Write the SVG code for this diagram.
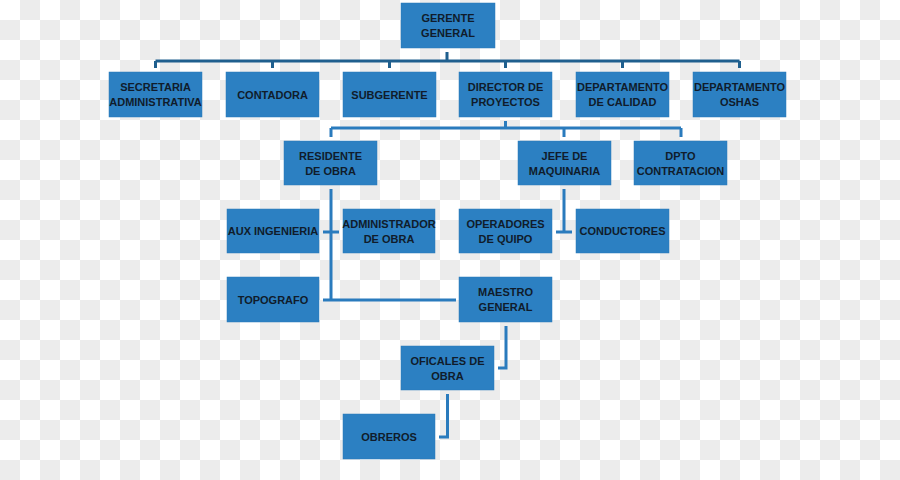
<svg xmlns="http://www.w3.org/2000/svg" width="900" height="480" viewBox="0 0 900 480">
<style>
.box{fill:#2c80c2;stroke:#2a79b8;stroke-width:0.5}
.t{font-family:"Liberation Sans",Arial,sans-serif;font-weight:bold;font-size:11px;fill:#101c2b;text-anchor:middle}
.top{fill:none;stroke:#1f5f8e;stroke-width:3}
.low{fill:none;stroke:#2a7bbd;stroke-width:3}
</style>
<defs>
<pattern id="chk" width="40" height="40" patternUnits="userSpaceOnUse">
<rect width="40" height="40" fill="#ffffff"/>
<rect x="20" y="0" width="20" height="20" fill="#ececec"/>
<rect x="0" y="20" width="20" height="20" fill="#ececec"/>
</pattern>
</defs>
<rect width="900" height="480" fill="url(#chk)"/>
<g id="connectors">
<path class="top" d="M447 52V61M155.5 61H739.5M155.5 61V68M272.5 61V68M389.5 61V68M505.5 61V68M622.5 61V68M739.5 61V68"/>
<path class="low" d="M505.5 121V128M331 128H681M331 128V137M564 128V137M681 128V137"/>
<path class="low" d="M331 189V300M323 300H456M323 232H339"/>
<path class="low" d="M564 189V232M556 232H572"/>
<path class="low" d="M506 326V368H498"/>
<path class="low" d="M447.5 394V437H439"/>
</g>
<g id="gerente"><rect class="box" x="401" y="3" width="94" height="45"/><text class="t" x="448" y="22">GERENTE</text><text class="t" x="448" y="37">GENERAL</text></g>
<g id="secretaria"><rect class="box" x="109" y="72" width="93" height="45"/><text class="t" x="155.5" y="91">SECRETARIA</text><text class="t" x="155.5" y="106">ADMINISTRATIVA</text></g>
<g id="contadora"><rect class="box" x="226" y="72" width="93" height="45"/><text class="t" x="272.5" y="98.5">CONTADORA</text></g>
<g id="subgerente"><rect class="box" x="343" y="72" width="93" height="45"/><text class="t" x="389.5" y="98.5">SUBGERENTE</text></g>
<g id="director"><rect class="box" x="459" y="72" width="93" height="45"/><text class="t" x="505.5" y="91">DIRECTOR DE</text><text class="t" x="505.5" y="106">PROYECTOS</text></g>
<g id="calidad"><rect class="box" x="576" y="72" width="93" height="45"/><text class="t" x="622.5" y="91">DEPARTAMENTO</text><text class="t" x="622.5" y="106">DE CALIDAD</text></g>
<g id="oshas"><rect class="box" x="693" y="72" width="93" height="45"/><text class="t" x="739.5" y="91">DEPARTAMENTO</text><text class="t" x="739.5" y="106">OSHAS</text></g>
<g id="residente"><rect class="box" x="284" y="141" width="93" height="44"/><text class="t" x="330.5" y="160">RESIDENTE</text><text class="t" x="330.5" y="175">DE OBRA</text></g>
<g id="jefe"><rect class="box" x="518" y="141" width="93" height="44"/><text class="t" x="564.5" y="160">JEFE DE</text><text class="t" x="564.5" y="175">MAQUINARIA</text></g>
<g id="dpto"><rect class="box" x="634" y="141" width="93" height="44"/><text class="t" x="680.5" y="160">DPTO</text><text class="t" x="680.5" y="175">CONTRATACION</text></g>
<g id="aux"><rect class="box" x="227" y="209" width="92" height="44"/><text class="t" x="273" y="235">AUX INGENIERIA</text></g>
<g id="administrador"><rect class="box" x="343" y="209" width="92" height="44"/><text class="t" x="389" y="228">ADMINISTRADOR</text><text class="t" x="389" y="243">DE OBRA</text></g>
<g id="operadores"><rect class="box" x="459" y="209" width="93" height="44"/><text class="t" x="505.5" y="228">OPERADORES</text><text class="t" x="505.5" y="243">DE QUIPO</text></g>
<g id="conductores"><rect class="box" x="576" y="209" width="93" height="44"/><text class="t" x="622.5" y="235">CONDUCTORES</text></g>
<g id="topografo"><rect class="box" x="227" y="277" width="92" height="45"/><text class="t" x="273" y="303.5">TOPOGRAFO</text></g>
<g id="maestro"><rect class="box" x="459" y="277" width="93" height="45"/><text class="t" x="505.5" y="296">MAESTRO</text><text class="t" x="505.5" y="311">GENERAL</text></g>
<g id="oficales"><rect class="box" x="401" y="346" width="93" height="44"/><text class="t" x="447.5" y="365">OFICALES DE</text><text class="t" x="447.5" y="380">OBRA</text></g>
<g id="obreros"><rect class="box" x="343" y="414" width="92" height="45"/><text class="t" x="389" y="440.5">OBREROS</text></g>
</svg>
